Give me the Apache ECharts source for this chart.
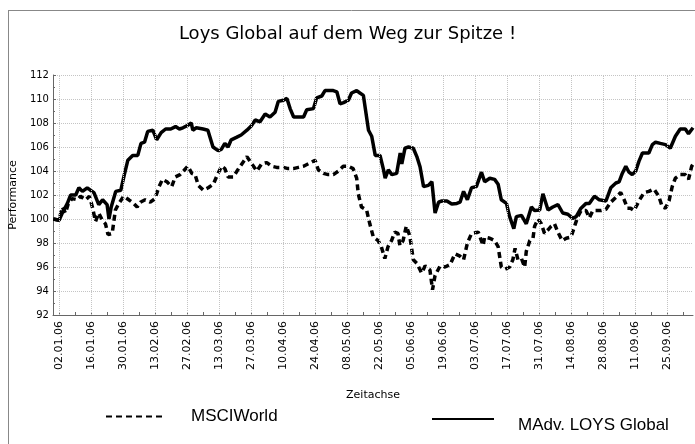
<!DOCTYPE html>
<html>
<head>
<meta charset="utf-8">
<script src="https://cdn.jsdelivr.net/npm/echarts@6/dist/echarts.min.js"></script>
<style>
  html, body { margin: 0; padding: 0; background: #fff; }
  #chart { width: 695px; height: 444px; }
</style>
</head>
<body>
<div id="chart"></div>
<script>
// x = Handelstag-Index (0 = 29.12.05, 2 = 02.01.06, 200 = 05.10.06)
const labelIdx = [2, 12, 22, 32, 42, 52, 62, 72, 82, 92, 102, 112, 122, 132, 142, 152, 162, 172, 182, 192];
const labelDates = ["02.01.06", "16.01.06", "30.01.06", "13.02.06", "27.02.06", "13.03.06", "27.03.06",
  "10.04.06", "24.04.06", "08.05.06", "22.05.06", "05.06.06", "19.06.06", "03.07.06", "17.07.06",
  "31.07.06", "14.08.06", "28.08.06", "11.09.06", "25.09.06"];

// MAdv. LOYS Global
const loysX = [0.1, 1.9, 2.9, 4.5, 5.5, 7.1, 8.1, 9.2, 10.7, 11.7, 12.8, 14.3, 15.5, 16.9, 17.5, 18.2, 19.6, 21.2,
  22.3, 23.4, 24.9, 26.5, 27.5, 28.6, 29.6, 31.2, 32.4, 33.8, 35.2, 36.8, 38.3, 39.5, 40.6, 42.1, 43.2, 43.7,
  44.8, 46.9, 48.4, 50.0, 51.6, 52.6, 53.7, 54.7, 55.7, 57.3, 58.8, 60.6, 62.1, 63.2, 64.7, 66.3, 67.8, 69.4,
  70.4, 72.0, 73.1, 74.1, 75.2, 76.7, 78.3, 79.3, 81.4, 82.4, 84.0, 85.0, 87.6, 88.7, 89.7, 90.8, 92.3, 93.3,
  94.9, 95.9, 97.0, 98.6, 99.6, 100.7, 102.2, 103.3, 103.8, 104.8, 105.9, 107.4, 108.5, 109.0, 110.0, 111.1,
  112.6, 113.7, 114.7, 115.8, 117.3, 118.4, 119.4, 120.5, 121.5, 123.1, 124.6, 126.2, 127.2, 128.3, 129.5,
  130.8, 132.3, 133.9, 134.9, 136.5, 138.0, 139.1, 140.1, 141.7, 142.7, 144.0, 144.8, 146.4, 147.9, 149.5,
  150.5, 152.1, 153.1, 154.7, 156.2, 157.8, 159.3, 160.9, 162.4, 163.5, 165.0, 166.6, 167.6, 169.2, 170.7,
  172.8, 174.3, 175.9, 176.9, 177.9, 179.0, 180.0, 181.0, 182.1, 183.1, 184.2, 186.2, 187.3, 188.3, 189.8,
  191.4, 192.9, 194.5, 196.0, 197.6, 198.6, 200.0];
const loysY = [100.0, 99.9, 100.5, 101.3, 102.0, 102.0, 102.6, 102.3, 102.6, 102.4, 102.2, 101.2, 101.6, 101.2, 100.0,
  101.0, 102.3, 102.4, 103.7, 104.9, 105.3, 105.3, 106.3, 106.4, 107.3, 107.4, 106.6, 107.2, 107.5, 107.5,
  107.7, 107.5, 107.6, 107.8, 108.0, 107.4, 107.6, 107.5, 107.4, 106.0, 105.7, 105.8, 106.3, 106.0, 106.6,
  106.8, 107.0, 107.4, 107.8, 108.25, 108.1, 108.75, 108.5, 108.9, 109.8, 109.9, 110.05, 109.2, 108.5, 108.5,
  108.5, 109.1, 109.2, 110.1, 110.25, 110.7, 110.7, 110.6, 109.6, 109.7, 109.9, 110.5, 110.7, 110.5, 110.3,
  107.4, 106.9, 105.3, 105.3, 104.1, 103.4, 104.1, 103.7, 103.8, 105.5, 104.6, 105.9, 106.0, 105.9, 105.2,
  104.35, 102.7, 102.8, 103.1, 100.5, 101.4, 101.5, 101.5, 101.25, 101.3, 101.4, 102.3, 101.6, 102.6, 102.7,
  103.9, 103.1, 103.4, 103.3, 102.9, 101.6, 101.3, 100.2, 99.2, 100.2, 100.3, 99.6, 101.0, 100.7, 100.75,
  102.1, 100.75, 101.0, 101.2, 100.5, 100.4, 100.05, 100.2, 100.9, 101.3, 101.3, 101.9, 101.6, 101.5, 102.6,
  103.0, 103.1, 103.8, 104.4, 103.9, 103.7, 104.0, 104.8, 105.5, 105.5, 106.2, 106.4, 106.3, 106.2, 105.9,
  106.9, 107.5, 107.5, 107.1, 107.6];

// MSCIWorld
const msciX = [0.1, 1.9, 2.9, 3.9, 4.8, 6.0, 7.6, 8.6, 10.2, 11.4, 12.3, 13.3, 14.3, 15.4, 16.4, 17.2, 18.5, 19.5,
  20.6, 22.1, 23.7, 25.2, 26.3, 27.3, 28.8, 30.4, 31.9, 33.0, 34.2, 35.6, 37.1, 38.2, 39.7, 40.8, 42.1, 43.4,
  44.4, 45.4, 47.0, 48.5, 50.1, 51.4, 52.7, 53.7, 54.7, 56.3, 58.0, 60.6, 62.1, 63.7, 65.2, 66.8, 68.3, 69.9,
  72.0, 73.5, 75.1, 76.7, 78.3, 79.8, 81.9, 82.9, 84.5, 86.0, 87.6, 89.2, 90.7, 92.3, 93.8, 94.9, 95.4, 96.4,
  98.0, 99.0, 100.1, 101.6, 102.6, 103.7, 104.7, 105.8, 106.8, 107.8, 108.4, 109.4, 110.4, 111.5, 112.6, 113.7,
  115.2, 116.3, 117.8, 118.6, 119.4, 121.0, 122.5, 124.1, 125.6, 127.2, 128.3, 129.5, 130.8, 132.9, 134.4,
  134.9, 136.5, 138.0, 139.1, 140.1, 141.1, 142.7, 143.7, 144.4, 145.3, 146.4, 147.4, 147.9, 149.0, 150.0,
  150.5, 151.6, 152.6, 153.6, 154.7, 155.7, 156.7, 157.8, 159.1, 160.4, 161.9, 163.0, 164.0, 165.0, 166.6,
  167.6, 168.7, 169.7, 171.2, 172.8, 174.3, 175.9, 177.4, 178.5, 179.5, 180.5, 181.6, 183.1, 184.7, 186.2,
  187.8, 189.3, 190.4, 191.4, 192.5, 193.5, 194.5, 196.0, 197.6, 198.6, 199.6, 200.1];
const msciY = [100.0, 99.9, 101.0, 100.5, 101.3, 101.7, 101.6, 101.9, 101.6, 101.9, 101.0, 99.8, 100.5, 99.9, 99.6,
  98.7, 98.8, 100.75, 101.3, 101.9, 101.6, 101.3, 101.0, 101.4, 101.6, 101.4, 101.7, 102.6, 103.3, 103.1,
  102.7, 103.5, 103.7, 104.0, 104.4, 103.8, 103.7, 102.8, 102.4, 102.6, 102.9, 103.7, 104.4, 104.2, 103.5,
  103.5, 104.2, 105.2, 104.6, 104.0, 104.6, 104.7, 104.4, 104.3, 104.3, 104.2, 104.2, 104.3, 104.4, 104.6,
  104.9, 104.1, 103.8, 103.7, 103.7, 104.0, 104.4, 104.4, 104.2, 103.4, 102.1, 101.0, 100.75, 99.6, 98.5,
  98.2, 97.7, 96.7, 97.7, 98.2, 98.9, 98.8, 97.8, 98.2, 99.4, 98.6, 96.6, 96.3, 95.5, 96.1, 95.75, 94.1, 95.3,
  96.1, 96.0, 96.2, 97.1, 96.9, 96.6, 98.0, 98.8, 98.9, 97.8, 98.5, 98.4, 98.2, 97.7, 96.0, 95.8, 96.0, 96.6,
  97.55, 96.6, 96.7, 96.0, 97.3, 98.2, 98.4, 99.4, 100.0, 99.6, 98.8, 99.1, 99.4, 99.6, 98.9, 98.2, 98.4,
  98.5, 99.4, 100.2, 100.7, 100.7, 100.1, 100.7, 100.7, 100.7, 100.8, 101.4, 101.8, 102.2, 101.6, 100.9,
  100.9, 100.7, 101.5, 102.2, 102.3, 102.5, 101.9, 101.0, 100.9, 101.5, 102.7, 103.4, 103.7, 103.7, 103.3,
  104.4, 104.6];

const weekTicks = [];
for (let i = 2; i <= 200; i += 5) weekTicks.push(i);

const font = "DejaVu Sans";
const myChart = echarts.init(document.getElementById("chart"));

myChart.setOption({
  animation: false,
  backgroundColor: "#fff",
  title: {
    text: "Loys Global auf dem Weg zur Spitze !",
    left: "center",
    top: 20,
    textStyle: { fontFamily: font, fontSize: 18, fontWeight: "normal", color: "#000" }
  },
  legend: [
    {
      data: ["MSCIWorld"],
      left: 105,
      top: 408,
      padding: 0,
      itemWidth: 58,
      itemHeight: 4,
      itemStyle: { color: "rgba(0,0,0,0)", borderWidth: 0 },
      textStyle: { fontFamily: "Liberation Sans", fontSize: 17, color: "#000", padding: [0, 0, 0, 22] }
    },
    {
      // Text sitzt im Original etwas tiefer als die Linie
      data: ["MAdv. LOYS Global"],
      left: 431,
      top: 404,
      padding: 0,
      itemWidth: 62,
      itemHeight: 4,
      itemStyle: { color: "rgba(0,0,0,0)", borderWidth: 0 },
      formatter: function (name) { return "\n" + name; },
      textStyle: { fontFamily: "Liberation Sans", fontSize: 17, lineHeight: 13, color: "#000", padding: [0, 0, 0, 19] }
    }
  ],
  grid: { left: 51, right: 2, top: 75, bottom: 129 },
  xAxis: {
    type: "value",
    min: 0,
    max: 200,
    name: "Zeitachse",
    nameLocation: "middle",
    nameGap: 75,
    nameTextStyle: { fontFamily: font, fontSize: 11, color: "#000" },
    axisLine: { lineStyle: { color: "#666" } },
    axisTick: { inside: true, length: 3, customValues: weekTicks, lineStyle: { color: "#666" } },
    axisLabel: {
      customValues: labelIdx,
      rotate: 90,
      fontFamily: font,
      fontSize: 11,
      color: "#000",
      margin: 6,
      formatter: function (v) {
        const k = labelIdx.indexOf(v);
        return k >= 0 ? labelDates[k] : "";
      }
    },
    splitLine: { show: false }
  },
  yAxis: {
    type: "value",
    min: 92,
    max: 112,
    interval: 2,
    name: "Performance",
    nameLocation: "middle",
    nameGap: 33,
    nameTextStyle: { fontFamily: font, fontSize: 11, color: "#000" },
    axisLine: { show: true, lineStyle: { color: "#666" } },
    axisTick: { show: true, inside: true, length: 3, lineStyle: { color: "#666" } },
    minorTick: { show: true, splitNumber: 2, length: 2, lineStyle: { color: "#666" } },
    axisLabel: { fontFamily: font, fontSize: 10, color: "#000", margin: 4 },
    splitLine: { show: true, lineStyle: { type: "dotted", color: "#c4c4c4" } }
  },
  graphic: [
    { type: "line", shape: { x1: 8.5, y1: 10, x2: 8.5, y2: 444 }, style: { stroke: "#888", lineWidth: 1 } },
    { type: "line", shape: { x1: 8, y1: 10.5, x2: 695, y2: 10.5 }, style: { stroke: "#888", lineWidth: 1 } }
  ],
  series: [
    {
      name: "grid",
      type: "line",
      data: [],
      z: 1,
      silent: true,
      markLine: {
        silent: true,
        symbol: ["none", "none"],
        label: { show: false },
        lineStyle: { type: "dotted", color: "#c4c4c4", width: 1 },
        data: labelIdx.map(function (v) { return { xAxis: v }; })
      }
    },
    {
      name: "MSCIWorld",
      type: "line",
      z: 3,
      symbol: "none",
      lineStyle: { color: "#000", width: 3.5, type: [6, 4], cap: "butt" },
      itemStyle: { color: "#000" },
      data: msciX.map(function (x, i) { return [x, msciY[i]]; })
    },
    {
      name: "MAdv. LOYS Global",
      type: "line",
      z: 3,
      symbol: "none",
      lineStyle: { color: "#000", width: 3.5 },
      itemStyle: { color: "#000" },
      data: loysX.map(function (x, i) { return [x, loysY[i]]; })
    }
  ]
});
</script>
</body>
</html>
